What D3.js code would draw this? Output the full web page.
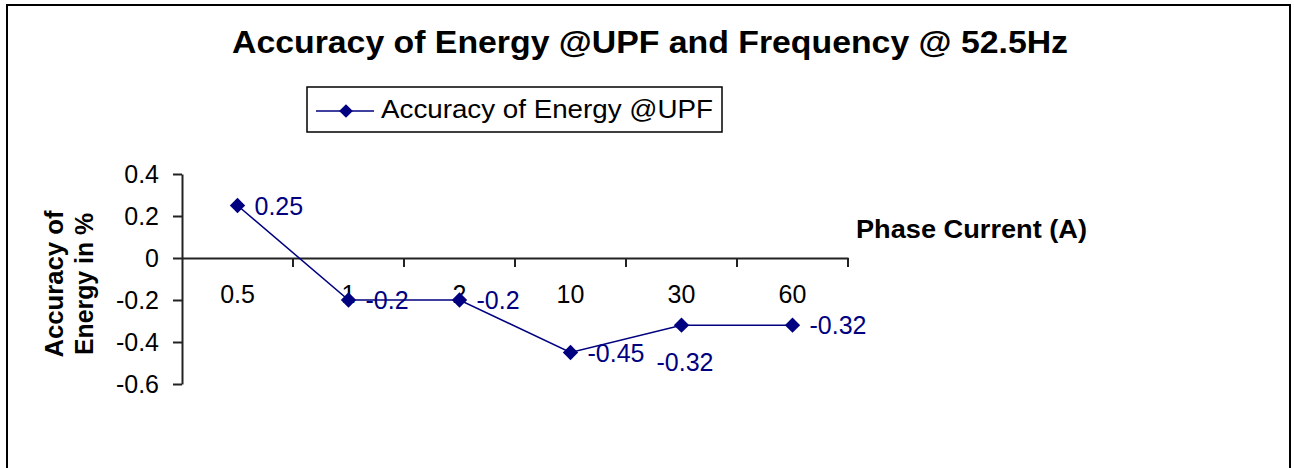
<!DOCTYPE html>
<html>
<head>
<meta charset="utf-8">
<script src="https://cdn.jsdelivr.net/npm/d3@7"></script>
<style>
  body { margin: 0; background: #fff; }
  svg { display: block; font-family: "Liberation Sans", Arial, sans-serif; }
</style>
</head>
<body>
<div id="grafico"></div>
<script>
// dados
const categorias = ["0.5", "1", "2", "10", "30", "60"];
const precisao = [0.25, -0.2, -0.2, -0.45, -0.32, -0.32];
const ticksY = [0.4, 0.2, 0, -0.2, -0.4, -0.6];
const titulo = "Accuracy of Energy @UPF and Frequency @ 52.5Hz";
const nomeSerie = "Accuracy of Energy @UPF";
const tituloX = "Phase Current (A)";
const tituloY = ["Accuracy of", "Energy in %"];

// o rotulo do ponto "30" foi arrastado para baixo no original
const ajusteRotulo = { "30": [-42, 37] };

const width = 1294, height = 468;
const azul = "#000080";

const svg = d3.select("#grafico")
  .append("svg")
  .attr("width", width)
  .attr("height", height);

// moldura
svg.append("rect")
  .attr("x", 7).attr("y", 5)
  .attr("width", 1283).attr("height", 520)
  .attr("fill", "none")
  .attr("stroke", "#000")
  .attr("stroke-width", 2);

svg.append("text")
  .attr("x", 232).attr("y", 53)
  .attr("textLength", 836)
  .attr("lengthAdjust", "spacingAndGlyphs")
  .attr("font-size", 32)
  .attr("font-weight", "bold")
  .text(titulo);

// legenda
const leg = svg.append("g");
leg.append("rect")
  .attr("x", 307).attr("y", 87)
  .attr("width", 415).attr("height", 45)
  .attr("fill", "#fff")
  .attr("stroke", "#000")
  .attr("stroke-width", 1.5);
leg.append("line")
  .attr("x1", 316).attr("x2", 374)
  .attr("y1", 111).attr("y2", 111)
  .attr("stroke", azul).attr("stroke-width", 1.5);
leg.append("path")
  .attr("d", d3.symbol(d3.symbolDiamond2, 120)())
  .attr("transform", "translate(346,111)")
  .attr("fill", azul);
leg.append("text")
  .attr("x", 381).attr("y", 118)
  .attr("textLength", 332)
  .attr("lengthAdjust", "spacingAndGlyphs")
  .attr("font-size", 25)
  .text(nomeSerie);

// escalas
const x = d3.scaleBand()
  .domain(categorias)
  .range([182, 848])
  .padding(0);

const y = d3.scaleLinear()
  .domain([-0.6, 0.4])
  .range([384, 174]);

// eixo Y
const eixoY = svg.append("g")
  .attr("transform", "translate(182,0)")
  .call(d3.axisLeft(y)
    .tickValues(ticksY)
    .tickSize(9)
    .tickSizeOuter(0)
    .tickPadding(14)
    .tickFormat(d => String(d)));
eixoY.select(".domain").attr("stroke", "#222").attr("stroke-width", 2);
eixoY.selectAll(".tick line").attr("stroke", "#222").attr("stroke-width", 2);
eixoY.selectAll(".tick text")
  .attr("font-size", 25)
  .attr("font-family", "Liberation Sans, Arial, sans-serif")
  .attr("fill", "#000");

// eixo X (cruza em zero)
const eixoX = svg.append("g")
  .attr("transform", `translate(0,${y(0)})`)
  .call(d3.axisBottom(x)
    .tickSize(0)
    .tickSizeOuter(0)
    .tickPadding(27));
eixoX.select(".domain").attr("stroke", "#222").attr("stroke-width", 2);
eixoX.selectAll(".tick text")
  .attr("font-size", 25)
  .attr("font-family", "Liberation Sans, Arial, sans-serif")
  .attr("fill", "#000");

// marcas entre categorias
const divisoes = categorias.slice(1).map(c => x(c)).concat([x.range()[1]]);
svg.append("g")
  .selectAll("line")
  .data(divisoes)
  .enter()
  .append("line")
  .attr("x1", d => d).attr("x2", d => d)
  .attr("y1", y(0)).attr("y2", y(0) + 9)
  .attr("stroke", "#222")
  .attr("stroke-width", 2);

svg.append("text")
  .attr("x", 856).attr("y", 238)
  .attr("textLength", 231)
  .attr("lengthAdjust", "spacingAndGlyphs")
  .attr("font-size", 25)
  .attr("font-weight", "bold")
  .text(tituloX);

svg.append("g")
  .attr("transform", "translate(0,284) rotate(-90)")
  .selectAll("text")
  .data(tituloY)
  .enter()
  .append("text")
  .attr("x", 0)
  .attr("y", (d, i) => 63 + i * 30)
  .attr("text-anchor", "middle")
  .attr("textLength", (d, i) => i === 0 ? 147 : 142)
  .attr("lengthAdjust", "spacingAndGlyphs")
  .attr("font-size", 25)
  .attr("font-weight", "bold")
  .text(d => d);

// serie
const pontos = categorias.map((c, i) => ({ cat: c, valor: precisao[i] }));
const cx = d => x(d.cat) + x.bandwidth() / 2;

svg.append("path")
  .datum(pontos)
  .attr("fill", "none")
  .attr("stroke", azul)
  .attr("stroke-width", 1.5)
  .attr("d", d3.line().x(cx).y(d => y(d.valor)));

svg.append("g")
  .selectAll("path")
  .data(pontos)
  .enter()
  .append("path")
  .attr("d", d3.symbol(d3.symbolDiamond2, 150)())
  .attr("transform", d => `translate(${cx(d)},${y(d.valor)})`)
  .attr("fill", azul);

svg.append("g")
  .selectAll("text")
  .data(pontos)
  .enter()
  .append("text")
  .attr("x", d => cx(d) + 17 + (ajusteRotulo[d.cat] ? ajusteRotulo[d.cat][0] : 0))
  .attr("y", d => y(d.valor) + (ajusteRotulo[d.cat] ? ajusteRotulo[d.cat][1] : 0))
  .attr("dy", "0.36em")
  .attr("font-size", 25)
  .attr("fill", azul)
  .text(d => String(d.valor));
</script>
</body>
</html>
